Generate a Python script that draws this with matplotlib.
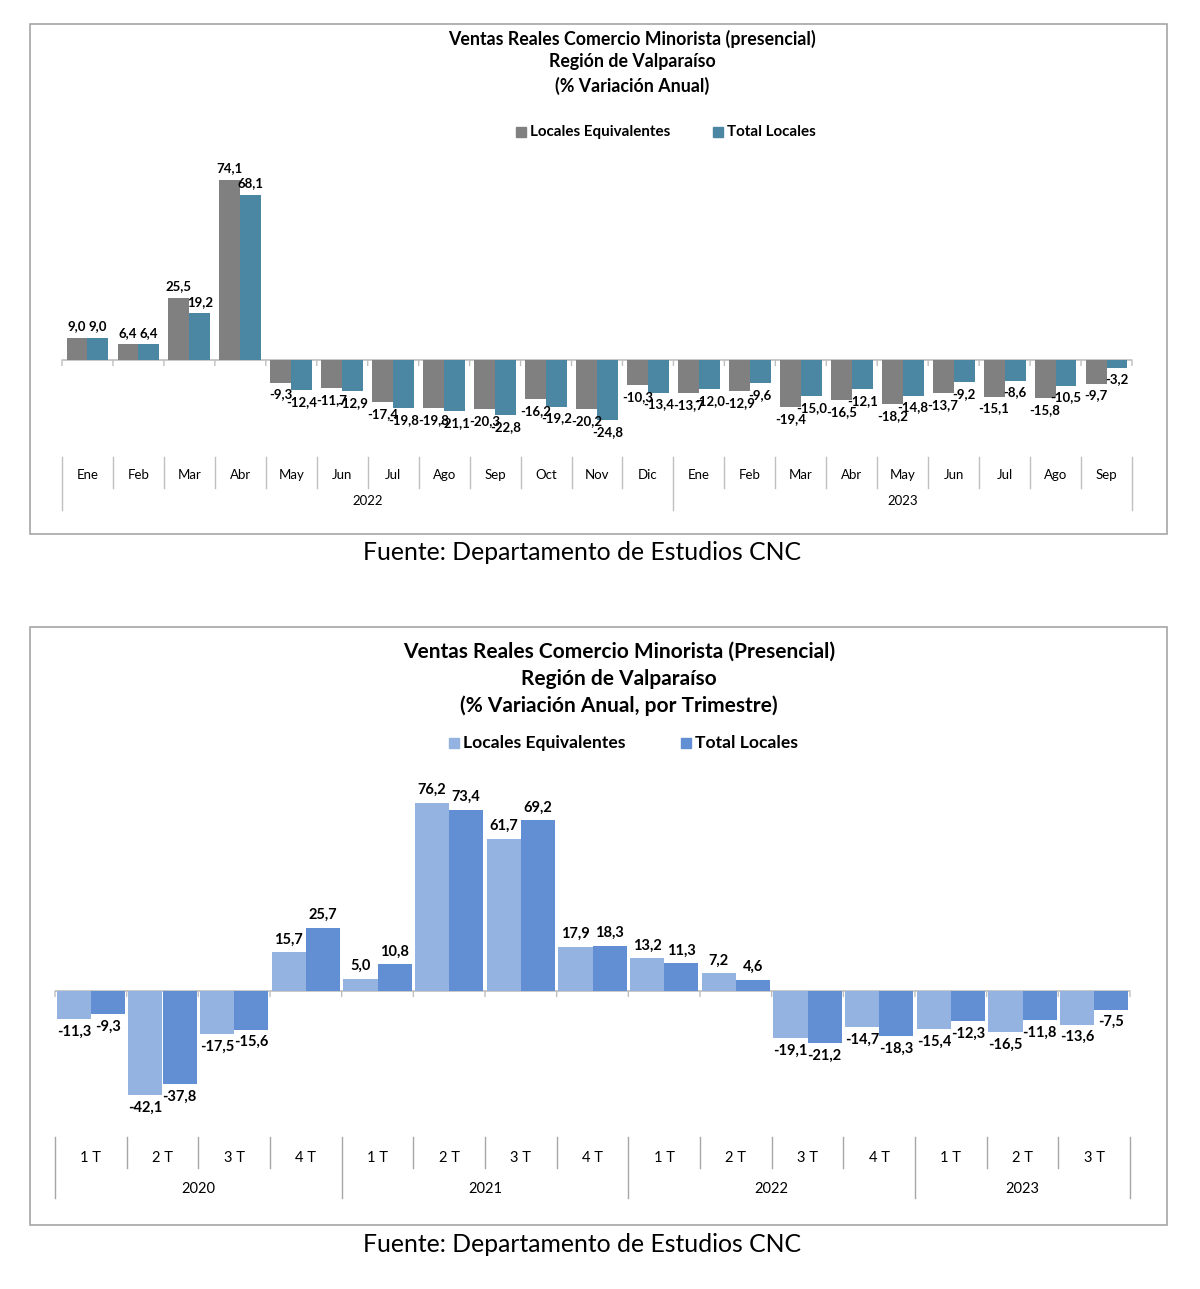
import matplotlib
matplotlib.use("Agg")
import matplotlib.pyplot as plt
from matplotlib.transforms import blended_transform_factory
from matplotlib.patches import Rectangle
import numpy as np

# ---------------- data ----------------
months = ["Ene", "Feb", "Mar", "Abr", "May", "Jun", "Jul", "Ago", "Sep", "Oct", "Nov", "Dic",
          "Ene", "Feb", "Mar", "Abr", "May", "Jun", "Jul", "Ago", "Sep"]
month_years = ["2022", "2023"]
month_year_counts = [12, 9]
top_equiv = [9.0, 6.4, 25.5, 74.1, -9.3, -11.7, -17.4, -19.8, -20.3, -16.2, -20.2, -10.3,
             -13.7, -12.9, -19.4, -16.5, -18.2, -13.7, -15.1, -15.8, -9.7]
top_total = [9.0, 6.4, 19.2, 68.1, -12.4, -12.9, -19.8, -21.1, -22.8, -19.2, -24.8, -13.4,
             -12.0, -9.6, -15.0, -12.1, -14.8, -9.2, -8.6, -10.5, -3.2]

quarters = ["1 T", "2 T", "3 T", "4 T", "1 T", "2 T", "3 T", "4 T", "1 T", "2 T", "3 T", "4 T",
            "1 T", "2 T", "3 T"]
quarter_years = ["2020", "2021", "2022", "2023"]
quarter_year_counts = [4, 4, 4, 3]
bot_equiv = [-11.3, -42.1, -17.5, 15.7, 5.0, 76.2, 61.7, 17.9, 13.2, 7.2, -19.1, -14.7, -15.4, -16.5, -13.6]
bot_total = [-9.3, -37.8, -15.6, 25.7, 10.8, 73.4, 69.2, 18.3, 11.3, 4.6, -21.2, -18.3, -12.3, -11.8, -7.5]

series_names = ["Locales Equivalentes", "Total Locales"]

W, H = 1200, 1289
fig = plt.figure(figsize=(W / 100, H / 100), dpi=100)
fig.patch.set_facecolor("white")

FAM = ["Lato", "Open Sans", "DejaVu Sans"]


def fy(py):
    return 1 - py / H


def fx(px):
    return px / W


def fmt(v):
    return f"{v:.1f}".replace(".", ",")


def panel(box, ax_px, ylim, cats, years, counts, s1, s2, colors, width,
          titles, title_x, title_y, title_fs, leg_y, leg_x, leg_fs, lab_fs,
          sep_top, sep_mid, sep_bot, cat_y, year_y, cat_fs, sep_color):
    x0, y0, x1, y1 = box
    fig.patches.append(Rectangle((fx(x0), fy(y1)), fx(x1 - x0), (y1 - y0) / H,
                                 transform=fig.transFigure, fill=False,
                                 edgecolor="#a6a6a6", linewidth=1.2))
    ax_l, ax_r, ax_t, ax_b = ax_px
    ax = fig.add_axes([fx(ax_l), fy(ax_b), fx(ax_r - ax_l), (ax_b - ax_t) / H])
    n = len(cats)
    x = np.arange(n)
    ax.bar(x - width / 2, s1, width, color=colors[0], zorder=2)
    ax.bar(x + width / 2, s2, width, color=colors[1], zorder=2)
    ax.set_xlim(-0.5, n - 0.5)
    ax.set_ylim(*ylim)
    for s in ax.spines.values():
        s.set_visible(False)
    ax.set_xticks([])
    ax.set_yticks([])
    ax.axhline(0, color="#bfbfbf", linewidth=1.2, zorder=1)
    for b in np.arange(n + 1) - 0.5:
        ax.annotate("", xy=(b, 0), xytext=(0, -4), textcoords="offset points",
                    xycoords="data",
                    arrowprops=dict(arrowstyle="-", color="#bfbfbf", lw=1.0,
                                    shrinkA=0, shrinkB=0))
    for vals, off in ((s1, -width / 2), (s2, width / 2)):
        for xi, v in zip(x, vals):
            dy = 4 if v >= 0 else -4
            ax.annotate(fmt(v), (xi + off, v), xytext=(0, dy), textcoords="offset points",
                        ha="center", va="bottom" if v >= 0 else "top",
                        fontsize=lab_fs, fontweight="bold", family=FAM, color="black",
                        zorder=3)
    tb = blended_transform_factory(ax.transData, fig.transFigure)
    bounds = np.arange(n + 1) - 0.5
    year_bounds = set(np.concatenate([[0], np.cumsum(counts)]) - 0.5)
    for b in bounds:
        bot = sep_bot if b in year_bounds else sep_mid
        ax.plot([b, b], [fy(sep_top), fy(bot)], transform=tb, color=sep_color,
                linewidth=1.0, clip_on=False)
    for xi, c in zip(x, cats):
        ax.text(xi, fy(cat_y), c, transform=tb, ha="center", va="center",
                fontsize=cat_fs, family=FAM, color="black")
    start = 0
    for yr, cnt in zip(years, counts):
        ax.text(start + (cnt - 1) / 2, fy(year_y), yr, transform=tb, ha="center",
                va="center", fontsize=cat_fs, family=FAM, color="black")
        start += cnt
    for t, ty in zip(titles, title_y):
        fig.text(fx(title_x), fy(ty), t, ha="center", va="center",
                 fontsize=title_fs, fontweight="bold", family=FAM)
    for name, col, lx in zip(series_names, colors, leg_x):
        fig.patches.append(Rectangle((fx(lx), fy(leg_y + 5)), fx(10), 10 / H,
                                     transform=fig.transFigure, color=col))
        fig.text(fx(lx + 14), fy(leg_y), name, ha="left", va="center",
                 fontsize=leg_fs, fontweight="bold", family=FAM)
    return ax


# top panel
panel(box=(30, 24, 1167, 534), ax_px=(62, 1132, 360 - 80 * 2.43, 360 + 30 * 2.43),
      ylim=(-30, 80), cats=months, years=month_years, counts=month_year_counts,
      s1=top_equiv, s2=top_total, colors=["#808080", "#4b87a3"], width=0.41,
      titles=["Ventas Reales Comercio Minorista (presencial)", "Región de Valparaíso",
              "(% Variación Anual)"],
      title_x=632, title_y=[39, 62, 86], title_fs=12.8, leg_y=132, leg_x=[516, 713],
      leg_fs=10.9, lab_fs=9.5, sep_top=457, sep_mid=488, sep_bot=510,
      cat_y=475, year_y=501, cat_fs=9.5, sep_color="#bfbfbf")

# bottom panel
panel(box=(30, 627, 1167, 1225), ax_px=(55, 1130, 991 - 85 * 2.47, 991 + 50 * 2.47),
      ylim=(-50, 85), cats=quarters, years=quarter_years, counts=quarter_year_counts,
      s1=bot_equiv, s2=bot_total, colors=["#95b3e0", "#628ed3"], width=0.475,
      titles=["Ventas Reales Comercio Minorista (Presencial)", "Región de Valparaíso",
              "(% Variación Anual, por Trimestre)"],
      title_x=619, title_y=[652, 679, 706], title_fs=15.0, leg_y=743, leg_x=[449, 681],
      leg_fs=12.6, lab_fs=10.5, sep_top=1137, sep_mid=1168, sep_bot=1198,
      cat_y=1158, year_y=1189, cat_fs=10.5, sep_color="#a6a6a6")

for ty in (552, 1244):
    fig.text(fx(582), fy(ty), "Fuente: Departamento de Estudios CNC",
             ha="center", va="center", fontsize=17.8, family=FAM)

fig.savefig("out.png", dpi=100, facecolor="white")
